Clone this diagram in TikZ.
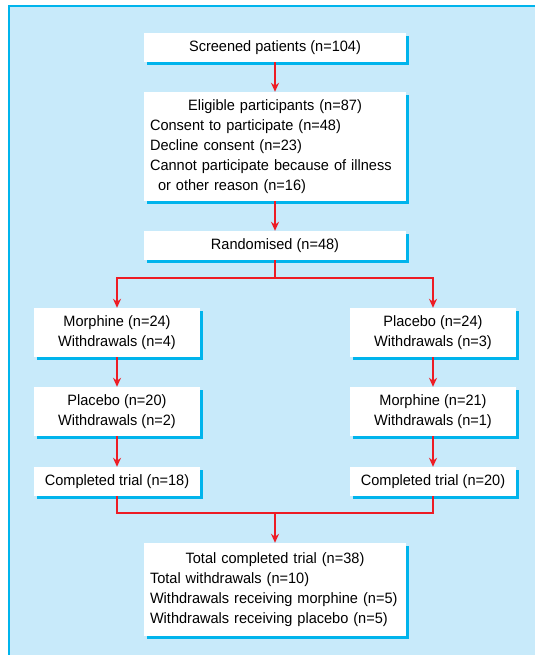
\documentclass[tikz,border=0pt]{standalone}
\usepackage{fontspec}
\setmainfont{Liberation Sans}[FakeStretch=0.97]
\usetikzlibrary{arrows.meta,shadows}
\definecolor{panelblue}{RGB}{200,234,250}
\definecolor{framecyan}{RGB}{0,180,236}
\definecolor{flowred}{RGB}{237,28,36}

\begin{document}
\begin{tikzpicture}[x=1pt, y=-1pt, font=\fontsize{15}{20}\selectfont,
  stage/.style={fill=white, inner sep=0pt, minimum width=262pt, minimum height=29pt,
    drop shadow={shadow xshift=3pt, shadow yshift=-3pt, fill=framecyan, opacity=1}},
  arm/.style={stage, minimum width=166pt, align=center},
  listbox/.style={stage, text width=250pt, align=left},
  redline/.style={flowred, line width=1.4pt},
  redarrow/.style={redline, -{Stealth[length=9pt, width=8pt]}}]
  \useasboundingbox (0,0) rectangle (535,655);
  \fill[panelblue] (8,5) rectangle (535,655);
  \draw[framecyan, line width=2.2pt] (9,655) -- (9,6) -- (535,6);

  % trunk
  \node[stage] (screen) at (275,47.5) {Screened patients (n=104)};
  \node[listbox, minimum height=109pt] (elig) at (275,146.5) {%
    \makebox[250pt]{Eligible participants (n=87)}\\
    Consent to participate (n=48)\\
    Decline consent (n=23)\\
    Cannot participate because of illness\\
    \hspace*{8pt}or other reason (n=16)};
  \node[stage] (rand) at (275,245.5) {Randomised (n=48)};

  % two arms
  \node[arm, minimum height=49pt] (mor1) at (117,332.5) {Morphine (n=24)\\Withdrawals (n=4)};
  \node[arm, minimum height=49pt] (pla2) at (117,411.5) {Placebo (n=20)\\Withdrawals (n=2)};
  \node[arm] (comp1) at (117,481.5) {Completed trial (n=18)};
  \node[arm, minimum height=49pt] (pla1) at (433,332.5) {Placebo (n=24)\\Withdrawals (n=3)};
  \node[arm, minimum height=49pt] (mor2) at (433,411.5) {Morphine (n=21)\\Withdrawals (n=1)};
  \node[arm] (comp2) at (433,481.5) {Completed trial (n=20)};

  \node[listbox, minimum height=93pt] (total) at (275,589.5) {%
    \makebox[250pt]{Total completed trial (n=38)}\\
    Total withdrawals (n=10)\\
    Withdrawals receiving morphine (n=5)\\
    Withdrawals receiving placebo (n=5)};

  \coordinate (split) at (275,278);
  \coordinate (merge) at (275,513);

  \draw[redarrow] (screen) -- (elig);
  \draw[redarrow] (elig) -- (rand);
  \draw[redline] (rand) -- (split);
  \draw[redarrow] (split) -| (mor1);
  \draw[redarrow] (split) -| (pla1);
  \draw[redarrow] (mor1) -- (pla2);
  \draw[redarrow] (pla2) -- (comp1);
  \draw[redarrow] (pla1) -- (mor2);
  \draw[redarrow] (mor2) -- (comp2);
  \draw[redline] (comp1) |- (merge) -| (comp2);
  \draw[redarrow] (merge) -- (total);
\end{tikzpicture}
\end{document}
